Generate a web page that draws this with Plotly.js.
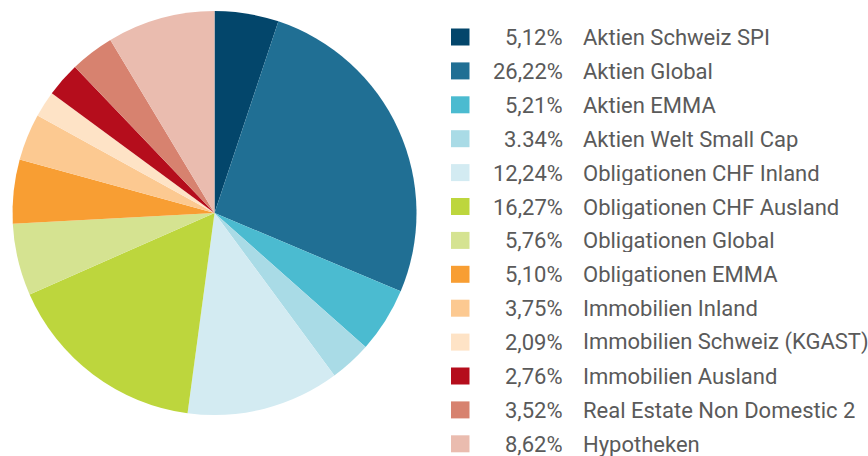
<!DOCTYPE html>
<html>
<head>
<meta charset="utf-8">
<script src="https://cdn.plot.ly/plotly-3.0.1.min.js"></script>
<style>html,body{margin:0;padding:0;background:#fff;}#chart{width:868px;height:456px;}</style>
</head>
<body>
<div id="chart"></div>
<script>
const categories = ["Aktien Schweiz SPI","Aktien Global","Aktien EMMA","Aktien Welt Small Cap","Obligationen CHF Inland","Obligationen CHF Ausland","Obligationen Global","Obligationen EMMA","Immobilien Inland","Immobilien Schweiz (KGAST)","Immobilien Ausland","Real Estate Non Domestic 2","Hypotheken"];
const values = [5.12,26.22,5.21,3.34,12.24,16.27,5.76,5.10,3.75,2.09,2.76,3.52,8.62];
const valueLabels = ["5,12%","26,22%","5,21%","3.34%","12,24%","16,27%","5,76%","5,10%","3,75%","2,09%","2,76%","3,52%","8,62%"];
const colors = ["#03466b","#206f94","#4bbbd0","#a9dbe6","#d3ebf2","#bdd63d","#d5e391","#f89e33","#fcc991","#fee3c6","#b50d1c","#d7826f","#eabcaf"];

const W = 868, H = 456;
const px = x => x / W;
const py = y => 1 - y / H;
const font = {family: "Roboto, sans-serif", size: 22, color: "#5a5a5a", weight: 400};

const shapes = [], annotations = [];
categories.forEach((c, i) => {
  const yc = 37 + i * 33.9;
  shapes.push({type: "rect", xref: "paper", yref: "paper",
    x0: px(451), x1: px(469.5), y0: py(yc - 8.5), y1: py(yc + 8.5),
    fillcolor: colors[i], line: {width: 0}});
  annotations.push({xref: "paper", yref: "paper", x: px(564), y: py(yc), xanchor: "right", yanchor: "middle",
    text: valueLabels[i], showarrow: false, font: font, height: 24, borderpad: 0});
  annotations.push({xref: "paper", yref: "paper", x: px(582), y: py(yc), xanchor: "left", yanchor: "middle",
    text: c, showarrow: false, font: font, height: 24, borderpad: 0});
});

const data = [{
  type: "pie", labels: categories, values: values, sort: false, direction: "clockwise", rotation: 0,
  marker: {colors: colors, line: {width: 0}}, textinfo: "none", hoverinfo: "label+percent",
  domain: {x: [px(12.5), px(416.5)], y: [py(415), py(11)]}
}];
const layout = {width: W, height: H, margin: {l: 0, r: 0, t: 0, b: 0}, showlegend: false,
  paper_bgcolor: "#fff", shapes: shapes, annotations: annotations};
Plotly.newPlot("chart", data, layout, {displayModeBar: false, staticPlot: true});
</script>
</body>
</html>
